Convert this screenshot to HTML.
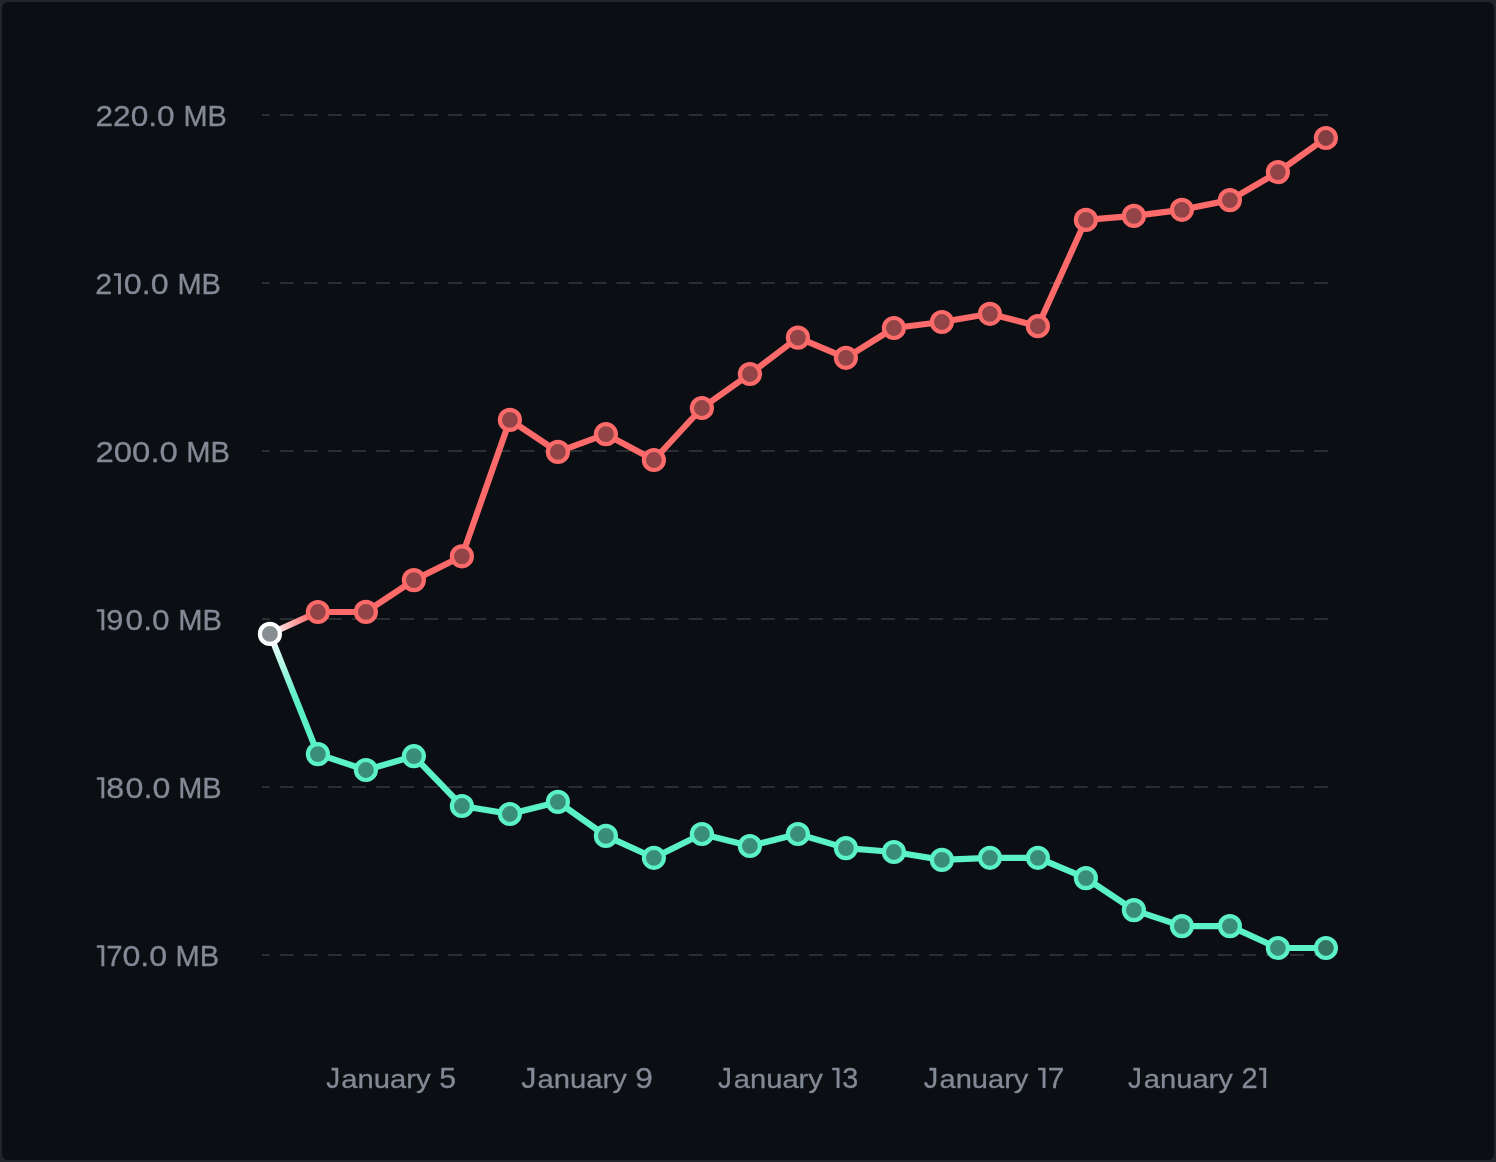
<!DOCTYPE html>
<html><head><meta charset="utf-8"><style>
html,body{margin:0;padding:0;}
body{width:1496px;height:1162px;background:#222529;overflow:hidden;position:relative;}
.card{position:absolute;left:2px;top:2px;width:1492px;height:1158px;background:#0b0e13;border-radius:6px;}
svg{position:absolute;left:0;top:0;will-change:transform;}
text{font-family:"Liberation Sans",sans-serif;fill:#838a95;stroke:#838a95;stroke-width:0.3px;}
</style></head><body><div class="card"></div>
<svg width="1496" height="1162" viewBox="0 0 1496 1162">
<defs><linearGradient id="gr" gradientUnits="userSpaceOnUse" x1="269.90" y1="633.90" x2="309.93" y2="615.64"><stop offset="0" stop-color="#ffffff"/><stop offset="1" stop-color="#fd6a6a"/></linearGradient><linearGradient id="gt" gradientUnits="userSpaceOnUse" x1="269.90" y1="633.90" x2="295.86" y2="698.91"><stop offset="0" stop-color="#ffffff"/><stop offset="1" stop-color="#5cf2c8"/></linearGradient></defs>
<line x1="1328" y1="115" x2="262" y2="115" stroke="#2a2d31" stroke-width="2" stroke-dasharray="14.03 10.02"/>
<line x1="1328" y1="283" x2="262" y2="283" stroke="#2a2d31" stroke-width="2" stroke-dasharray="14.03 10.02"/>
<line x1="1328" y1="451" x2="262" y2="451" stroke="#2a2d31" stroke-width="2" stroke-dasharray="14.03 10.02"/>
<line x1="1328" y1="619" x2="262" y2="619" stroke="#2a2d31" stroke-width="2" stroke-dasharray="14.03 10.02"/>
<line x1="1328" y1="787" x2="262" y2="787" stroke="#2a2d31" stroke-width="2" stroke-dasharray="14.03 10.02"/>
<line x1="1328" y1="955" x2="262" y2="955" stroke="#2a2d31" stroke-width="2" stroke-dasharray="14.03 10.02"/>
<text x="95.52" y="126.20" font-size="29.2" textLength="79.14" lengthAdjust="spacingAndGlyphs">220.0</text>
<text x="183.46" y="125.95" font-size="29.5" textLength="43.34" lengthAdjust="spacingAndGlyphs">MB</text>
<text x="95.38" y="294.20" font-size="29.2" textLength="16.92" lengthAdjust="spacingAndGlyphs">2</text>
<text x="123.84" y="294.20" font-size="29.2" textLength="44.68" lengthAdjust="spacingAndGlyphs">0.0</text>
<text x="177.46" y="293.95" font-size="29.5" textLength="43.48" lengthAdjust="spacingAndGlyphs">MB</text>
<text x="95.52" y="462.20" font-size="29.2" textLength="82.32" lengthAdjust="spacingAndGlyphs">200.0</text>
<text x="186.28" y="461.95" font-size="29.5" textLength="43.66" lengthAdjust="spacingAndGlyphs">MB</text>
<text x="106.38" y="630.20" font-size="29.2" textLength="17.14" lengthAdjust="spacingAndGlyphs">9</text>
<text x="125.62" y="630.20" font-size="29.2" textLength="43.90" lengthAdjust="spacingAndGlyphs">0.0</text>
<text x="178.28" y="629.95" font-size="29.5" textLength="43.66" lengthAdjust="spacingAndGlyphs">MB</text>
<text x="106.38" y="798.20" font-size="29.2" textLength="17.92" lengthAdjust="spacingAndGlyphs">8</text>
<text x="125.62" y="798.20" font-size="29.2" textLength="44.68" lengthAdjust="spacingAndGlyphs">0.0</text>
<text x="178.28" y="797.95" font-size="29.5" textLength="43.38" lengthAdjust="spacingAndGlyphs">MB</text>
<text x="106.20" y="966.20" font-size="29.2" textLength="16.32" lengthAdjust="spacingAndGlyphs">7</text>
<text x="122.48" y="966.20" font-size="29.2" textLength="44.68" lengthAdjust="spacingAndGlyphs">0.0</text>
<text x="175.46" y="965.95" font-size="29.5" textLength="43.66" lengthAdjust="spacingAndGlyphs">MB</text>
<text x="326.22" y="1087.90" font-size="29.6" textLength="13.90" lengthAdjust="spacingAndGlyphs">J</text>
<text x="341.34" y="1087.90" font-size="29.6" textLength="89.22" lengthAdjust="spacingAndGlyphs" transform="translate(0 1087.90) scale(1 0.875) translate(0 -1087.90)">anuary</text>
<text x="521.30" y="1087.90" font-size="29.6" textLength="15.10" lengthAdjust="spacingAndGlyphs">J</text>
<text x="537.62" y="1087.90" font-size="29.6" textLength="89.26" lengthAdjust="spacingAndGlyphs" transform="translate(0 1087.90) scale(1 0.875) translate(0 -1087.90)">anuary</text>
<text x="718.08" y="1087.90" font-size="29.6" textLength="13.90" lengthAdjust="spacingAndGlyphs">J</text>
<text x="733.80" y="1087.90" font-size="29.6" textLength="89.08" lengthAdjust="spacingAndGlyphs" transform="translate(0 1087.90) scale(1 0.875) translate(0 -1087.90)">anuary</text>
<text x="923.76" y="1087.90" font-size="29.6" textLength="14.50" lengthAdjust="spacingAndGlyphs">J</text>
<text x="939.48" y="1087.90" font-size="29.6" textLength="88.94" lengthAdjust="spacingAndGlyphs" transform="translate(0 1087.90) scale(1 0.875) translate(0 -1087.90)">anuary</text>
<text x="1128.08" y="1087.90" font-size="29.6" textLength="13.90" lengthAdjust="spacingAndGlyphs">J</text>
<text x="1143.80" y="1087.90" font-size="29.6" textLength="89.08" lengthAdjust="spacingAndGlyphs" transform="translate(0 1087.90) scale(1 0.875) translate(0 -1087.90)">anuary</text>
<text x="439.38" y="1087.90" font-size="29.6" textLength="16.78" lengthAdjust="spacingAndGlyphs">5</text>
<text x="635.20" y="1087.90" font-size="29.6" textLength="17.64" lengthAdjust="spacingAndGlyphs">9</text>
<text x="842.16" y="1087.90" font-size="29.6" textLength="16.00" lengthAdjust="spacingAndGlyphs">3</text>
<text x="1047.70" y="1087.90" font-size="29.6" textLength="16.60" lengthAdjust="spacingAndGlyphs">7</text>
<text x="1241.38" y="1087.90" font-size="29.6" textLength="16.14" lengthAdjust="spacingAndGlyphs">2</text>
<path fill="#838a95" d="M113.90 273.30H120.90V294.20H118.00V275.70H113.90Z"/>
<path fill="#838a95" d="M96.80 609.30H104.30V630.20H101.40V611.70H96.80Z"/>
<path fill="#838a95" d="M96.80 777.30H104.30V798.20H101.40V779.70H96.80Z"/>
<path fill="#838a95" d="M96.80 945.30H104.30V966.20H101.40V947.70H96.80Z"/>
<path fill="#838a95" d="M832.20 1067.80H839.50V1087.90H836.60V1070.20H832.20Z"/>
<path fill="#838a95" d="M1038.10 1067.80H1045.50V1087.90H1042.60V1070.20H1038.10Z"/>
<path fill="#838a95" d="M1259.10 1067.80H1266.20V1087.90H1263.30V1070.20H1259.10Z"/>
<line x1="269.90" y1="633.90" x2="317.90" y2="612.00" stroke="url(#gr)" stroke-width="6.2"/>
<polyline points="317.90,612.00 365.90,611.90 413.90,580.10 461.90,556.30 509.90,419.90 557.90,451.90 605.90,434.20 653.90,460.00 701.90,408.00 749.90,374.00 797.90,337.60 845.90,357.80 893.90,328.00 941.90,322.00 989.90,313.80 1037.90,326.20 1085.90,219.90 1133.90,215.90 1181.90,209.80 1229.90,200.10 1277.90,172.10 1325.90,138.00" fill="none" stroke="#fd6a6a" stroke-width="6.2" stroke-linejoin="round"/>
<line x1="269.90" y1="633.90" x2="317.90" y2="754.10" stroke="url(#gt)" stroke-width="6.2"/>
<polyline points="317.90,754.10 365.90,770.00 413.90,756.20 461.90,806.00 509.90,814.00 557.90,801.90 605.90,835.90 653.90,857.80 701.90,834.00 749.90,846.00 797.90,834.00 845.90,848.10 893.90,852.00 941.90,859.90 989.90,857.80 1037.90,857.80 1085.90,878.10 1133.90,910.10 1181.90,926.10 1229.90,926.10 1277.90,948.00 1325.90,948.00" fill="none" stroke="#5cf2c8" stroke-width="6.2" stroke-linejoin="round"/>
<circle cx="317.90" cy="612.00" r="10" fill="#934447" stroke="#fd6a6a" stroke-width="4.2"/>
<circle cx="365.90" cy="611.90" r="10" fill="#934447" stroke="#fd6a6a" stroke-width="4.2"/>
<circle cx="413.90" cy="580.10" r="10" fill="#934447" stroke="#fd6a6a" stroke-width="4.2"/>
<circle cx="461.90" cy="556.30" r="10" fill="#934447" stroke="#fd6a6a" stroke-width="4.2"/>
<circle cx="509.90" cy="419.90" r="10" fill="#934447" stroke="#fd6a6a" stroke-width="4.2"/>
<circle cx="557.90" cy="451.90" r="10" fill="#934447" stroke="#fd6a6a" stroke-width="4.2"/>
<circle cx="605.90" cy="434.20" r="10" fill="#934447" stroke="#fd6a6a" stroke-width="4.2"/>
<circle cx="653.90" cy="460.00" r="10" fill="#934447" stroke="#fd6a6a" stroke-width="4.2"/>
<circle cx="701.90" cy="408.00" r="10" fill="#934447" stroke="#fd6a6a" stroke-width="4.2"/>
<circle cx="749.90" cy="374.00" r="10" fill="#934447" stroke="#fd6a6a" stroke-width="4.2"/>
<circle cx="797.90" cy="337.60" r="10" fill="#934447" stroke="#fd6a6a" stroke-width="4.2"/>
<circle cx="845.90" cy="357.80" r="10" fill="#934447" stroke="#fd6a6a" stroke-width="4.2"/>
<circle cx="893.90" cy="328.00" r="10" fill="#934447" stroke="#fd6a6a" stroke-width="4.2"/>
<circle cx="941.90" cy="322.00" r="10" fill="#934447" stroke="#fd6a6a" stroke-width="4.2"/>
<circle cx="989.90" cy="313.80" r="10" fill="#934447" stroke="#fd6a6a" stroke-width="4.2"/>
<circle cx="1037.90" cy="326.20" r="10" fill="#934447" stroke="#fd6a6a" stroke-width="4.2"/>
<circle cx="1085.90" cy="219.90" r="10" fill="#934447" stroke="#fd6a6a" stroke-width="4.2"/>
<circle cx="1133.90" cy="215.90" r="10" fill="#934447" stroke="#fd6a6a" stroke-width="4.2"/>
<circle cx="1181.90" cy="209.80" r="10" fill="#934447" stroke="#fd6a6a" stroke-width="4.2"/>
<circle cx="1229.90" cy="200.10" r="10" fill="#934447" stroke="#fd6a6a" stroke-width="4.2"/>
<circle cx="1277.90" cy="172.10" r="10" fill="#934447" stroke="#fd6a6a" stroke-width="4.2"/>
<circle cx="1325.90" cy="138.00" r="10" fill="#843e41" stroke="#fd6a6a" stroke-width="4.2"/>
<circle cx="317.90" cy="754.10" r="10" fill="#3a8e79" stroke="#5cf2c8" stroke-width="4.2"/>
<circle cx="365.90" cy="770.00" r="10" fill="#3a8e79" stroke="#5cf2c8" stroke-width="4.2"/>
<circle cx="413.90" cy="756.20" r="10" fill="#3a8e79" stroke="#5cf2c8" stroke-width="4.2"/>
<circle cx="461.90" cy="806.00" r="10" fill="#3a8e79" stroke="#5cf2c8" stroke-width="4.2"/>
<circle cx="509.90" cy="814.00" r="10" fill="#3a8e79" stroke="#5cf2c8" stroke-width="4.2"/>
<circle cx="557.90" cy="801.90" r="10" fill="#3a8e79" stroke="#5cf2c8" stroke-width="4.2"/>
<circle cx="605.90" cy="835.90" r="10" fill="#3a8e79" stroke="#5cf2c8" stroke-width="4.2"/>
<circle cx="653.90" cy="857.80" r="10" fill="#3a8e79" stroke="#5cf2c8" stroke-width="4.2"/>
<circle cx="701.90" cy="834.00" r="10" fill="#3a8e79" stroke="#5cf2c8" stroke-width="4.2"/>
<circle cx="749.90" cy="846.00" r="10" fill="#3a8e79" stroke="#5cf2c8" stroke-width="4.2"/>
<circle cx="797.90" cy="834.00" r="10" fill="#3a8e79" stroke="#5cf2c8" stroke-width="4.2"/>
<circle cx="845.90" cy="848.10" r="10" fill="#3a8e79" stroke="#5cf2c8" stroke-width="4.2"/>
<circle cx="893.90" cy="852.00" r="10" fill="#3a8e79" stroke="#5cf2c8" stroke-width="4.2"/>
<circle cx="941.90" cy="859.90" r="10" fill="#3a8e79" stroke="#5cf2c8" stroke-width="4.2"/>
<circle cx="989.90" cy="857.80" r="10" fill="#3a8e79" stroke="#5cf2c8" stroke-width="4.2"/>
<circle cx="1037.90" cy="857.80" r="10" fill="#3a8e79" stroke="#5cf2c8" stroke-width="4.2"/>
<circle cx="1085.90" cy="878.10" r="10" fill="#3a8e79" stroke="#5cf2c8" stroke-width="4.2"/>
<circle cx="1133.90" cy="910.10" r="10" fill="#3a8e79" stroke="#5cf2c8" stroke-width="4.2"/>
<circle cx="1181.90" cy="926.10" r="10" fill="#3a8e79" stroke="#5cf2c8" stroke-width="4.2"/>
<circle cx="1229.90" cy="926.10" r="10" fill="#3a8e79" stroke="#5cf2c8" stroke-width="4.2"/>
<circle cx="1277.90" cy="948.00" r="10" fill="#3a8e79" stroke="#5cf2c8" stroke-width="4.2"/>
<circle cx="1325.90" cy="948.00" r="10" fill="#357663" stroke="#5cf2c8" stroke-width="4.2"/>
<circle cx="269.90" cy="633.90" r="10" fill="#878e91" stroke="#ffffff" stroke-width="4.2"/>
</svg></body></html>
